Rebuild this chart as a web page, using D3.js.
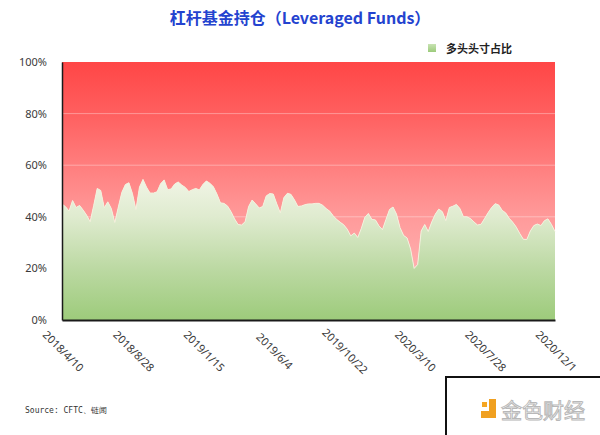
<!DOCTYPE html>
<html><head><meta charset="utf-8">
<script src="https://cdn.jsdelivr.net/npm/d3@7"></script>
<style>body{margin:0;background:#fff;} svg{display:block}</style>
</head><body>
<svg id="c" width="600" height="435"></svg>
<script>
// Weekly share of long positions (%), Leveraged Funds
const longShare = [
45.0,43.9,42.2,46.3,43.6,44.4,42.6,40.6,38.1,44.4,
51.0,50.2,43.5,45.8,43.2,37.8,43.8,49.5,52.5,53.2,
49.0,42.8,51.5,54.5,51.5,49.2,49.2,49.7,52.8,54.3,
50.5,50.8,52.7,53.5,52.3,51.4,49.8,50.5,51.0,50.4,
52.5,53.9,53.0,51.6,48.8,45.4,45.2,44.2,42.0,39.2,
37.0,36.8,38.1,44.0,46.5,45.0,43.4,44.0,48.1,49.0,
48.8,45.0,41.5,47.4,49.1,48.7,46.6,44.0,44.2,44.7,
45.0,45.0,45.2,45.2,44.5,43.2,42.2,40.4,39.0,37.9,
36.9,35.2,32.6,33.7,32.0,35.5,39.8,41.3,39.0,38.8,
36.5,35.0,39.0,42.8,43.8,41.0,35.8,32.8,31.8,27.5,
20.0,21.5,34.5,37.0,34.3,38.0,41.0,43.0,42.0,38.5,
43.6,44.1,44.8,43.2,40.0,40.0,39.3,38.0,36.8,37.1,
39.3,41.6,43.6,45.1,44.6,42.5,41.5,39.4,37.9,36.0,
33.5,31.3,31.2,34.5,36.6,37.2,36.6,38.5,39.2,37.0,
34.3
];
// weekly report dates (Tuesdays) starting 2018/4/10
const weeks = d3.timeTuesday.range(new Date(2018,3,10), new Date(2020,11,16));
const yTicks = [0,20,40,60,80,100];
const xTickLabels = ["2018/4/10","2018/8/28","2019/1/15","2019/6/4","2019/10/22","2020/3/10","2020/7/28","2020/12/1"];
const xTickIdx = [0,20,40,60,80,100,120,140];

const svg = d3.select("#c");
const L = 62, R = 555, T = 62, B = 320;
const data = longShare.map((v,i)=>({d:weeks[i], v}));
const x = d3.scaleTime().domain([weeks[0], weeks[longShare.length-1]]).range([L,R]);
const y = d3.scaleLinear().domain([0,100]).range([B,T]);

const defs = svg.append("defs");
const rg = defs.append("linearGradient").attr("id","red").attr("gradientUnits","userSpaceOnUse")
  .attr("x1",0).attr("y1",T).attr("x2",0).attr("y2",B);
[[0,"#ff4646"],[0.2,"#ff5f5f"],[0.4,"#ff7e7e"],[0.6,"#ff9a9a"],[1,"#ffc4c4"]].forEach(s=>rg.append("stop").attr("offset",s[0]).attr("stop-color",s[1]));
const gg = defs.append("linearGradient").attr("id","green").attr("gradientUnits","userSpaceOnUse")
  .attr("x1",0).attr("y1",T).attr("x2",0).attr("y2",B);
[[0,"#ffffff"],[0.45,"#f1f5e6"],[0.6,"#dfebcf"],[0.8,"#bcd9a3"],[1,"#9dcb7b"]].forEach(s=>gg.append("stop").attr("offset",s[0]).attr("stop-color",s[1]));
const lg = defs.append("linearGradient").attr("id","lg").attr("x1",0).attr("y1",0).attr("x2",0).attr("y2",1);
[[0,"#c8e3b3"],[1,"#9ccb7b"]].forEach(s=>lg.append("stop").attr("offset",s[0]).attr("stop-color",s[1]));

// red area (remaining share) from line up to 100%
svg.append("path").datum(data)
  .attr("d", d3.area().x(d=>x(d.d)).y0(y(100)).y1(d=>y(d.v))(data))
  .attr("fill","url(#red)");
// gridlines
svg.append("g").selectAll("line").data(yTicks.filter(t=>t>0&&t<100)).join("line")
  .attr("x1",L).attr("x2",R).attr("y1",d=>y(d)).attr("y2",d=>y(d))
  .attr("stroke","#ffffff").attr("stroke-opacity",0.35).attr("stroke-width",1);
// green area (long share)
svg.append("path")
  .attr("d", d3.area().x(d=>x(d.d)).y0(y(0)).y1(d=>y(d.v))(data))
  .attr("fill","url(#green)");
svg.append("path")
  .attr("d", d3.line().x(d=>x(d.d)).y(d=>y(d.v))(data))
  .attr("fill","none").attr("stroke","#f3f0dc").attr("stroke-width",1);

// axes
const yAxis = svg.append("g").attr("transform",`translate(${L},0)`)
  .call(d3.axisLeft(y).tickValues(yTicks).tickFormat(d=>d+"%").tickSize(0).tickPadding(15));
yAxis.select(".domain").attr("stroke","#1a1a1a").attr("stroke-width",1.5);
yAxis.selectAll("text").attr("font-family","'Noto Sans', sans-serif").attr("font-size",11).attr("fill","#3a3a3a");

const xAxis = svg.append("g").attr("transform",`translate(0,${B})`)
  .call(d3.axisBottom(x).tickValues(xTickIdx.map(i=>weeks[i])).tickFormat((d,k)=>xTickLabels[k]).tickSize(0));
xAxis.select(".domain").attr("stroke","#1a1a1a").attr("stroke-width",2);
xAxis.selectAll("text")
  .attr("font-family","'Noto Sans', sans-serif").attr("font-size",11).attr("fill","#3a3a3a")
  .attr("text-anchor","middle").attr("dy",0).attr("y",0)
  .attr("transform","translate(-2,34) rotate(45)");

// title
svg.append("text").attr("x",300).attr("y",24).attr("text-anchor","middle")
  .attr("font-family","'Noto Sans CJK SC', sans-serif").attr("font-weight",700).attr("font-size",16)
  .attr("fill","#2443cf").text("杠杆基金持仓（Leveraged Funds）");

// legend
svg.append("rect").attr("x",428).attr("y",44).attr("width",8).attr("height",8).attr("fill","url(#lg)");
svg.append("text").attr("x",446).attr("y",52.5)
  .attr("font-family","'Noto Sans CJK SC', sans-serif").attr("font-weight",700).attr("font-size",11)
  .attr("fill","#222").text("多头头寸占比");

// source
svg.append("text").attr("x",25).attr("y",413)
  .attr("font-family","'DejaVu Sans Mono', monospace").attr("font-size",8).attr("fill","#333")
  .text("Source: CFTC、链闻");

// bottom-right logo box
svg.append("path").attr("d","M446,435 V377 H600").attr("fill","none").attr("stroke","#111").attr("stroke-width",2);
svg.append("rect").attr("x",482).attr("y",402).attr("width",5).attr("height",5).attr("fill","#f5a623");
svg.append("path").attr("d","M489,399 H496 V418 H481 V411 H489 Z").attr("fill","#f0a020");
svg.append("text").attr("x",501).attr("y",418)
  .attr("font-family","'Noto Sans CJK SC', sans-serif").attr("font-size",21).attr("fill","#fff")
  .attr("stroke","#b8b8b8").attr("stroke-width",1).text("金色财经");
</script>
</body></html>
